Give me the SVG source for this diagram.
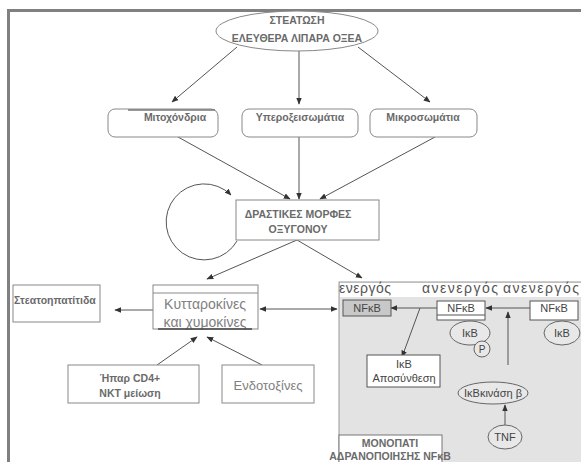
<svg xmlns="http://www.w3.org/2000/svg" width="581" height="462" viewBox="0 0 581 462">
<defs>
<marker id="ah" viewBox="0 0 10 10" refX="9" refY="5" markerWidth="7" markerHeight="7" orient="auto-start-reverse" markerUnits="userSpaceOnUse">
<path d="M0,1 L10,5 L0,9 Z" fill="#333"/>
</marker>
</defs>
<style>
.ln{stroke:#555;stroke-width:1;fill:none;marker-end:url(#ah)}
.bx{fill:#fff;stroke:#888;stroke-width:1}
.t{font-family:"Liberation Sans",Arial,sans-serif;fill:#6a6a6a;font-weight:bold;font-size:10.5px;text-anchor:middle}
.tr{font-family:"Liberation Sans",Arial,sans-serif;fill:#808080;font-size:14px;text-anchor:middle}
.tn{font-family:"Liberation Sans",Arial,sans-serif;fill:#444;font-size:11px;text-anchor:middle}
.hd{font-family:"Liberation Sans",Arial,sans-serif;fill:#555;font-size:14px}
.el{fill:#e8e8e8;stroke:#666;stroke-width:1}
</style>
<rect width="581" height="462" fill="#fff"/>
<!-- frame -->
<path d="M8.5,462 V10.5 H581" stroke="#808080" stroke-width="3" fill="none"/>

<!-- panel -->
<g id="panel">
<rect x="339" y="282" width="250" height="190" fill="#e3e3e3" stroke="#999"/>
<rect x="340" y="283" width="241" height="14" fill="#fff"/>
<text class="hd" x="339" y="293" textLength="52" lengthAdjust="spacing">ενεργός</text>
<text class="hd" x="422" y="293" textLength="76" lengthAdjust="spacing">ανενεργός</text>
<text class="hd" x="503" y="293" textLength="76" lengthAdjust="spacing">ανενεργός</text>
</g>

<g id="connectors">
<path class="ln" d="M237,47 L172,102"/>
<path class="ln" d="M299,51 L299,104"/>
<path class="ln" d="M358,47 L430,102"/>
<path class="ln" d="M178,137 L290,199"/>
<path class="ln" d="M299,137 L299,199"/>
<path class="ln" d="M435,137 L320,199"/>
<path class="ln" d="M237,241 A38,38 0 1 1 231,195"/>
<path class="ln" d="M297,240 L207,279"/>
<path class="ln" d="M297,240 L362,278"/>
<path class="ln" d="M153,310 L115,310"/>
<path class="ln" d="M260,309 L337,309" style="marker-start:url(#ah)"/>
<path class="ln" d="M157,365 L197,337"/>
<path class="ln" d="M262,365 L207,337"/>
<path class="ln" d="M437,308 L391,308"/>
<path class="ln" d="M420,308 L402,357"/>
<path class="ln" d="M530,308 L486,308"/>
<path class="ln" d="M508,365 L508,312"/>
<path class="ln" d="M505,425 L505,405"/>
</g>

<g id="steatosi">
<ellipse cx="297" cy="31" rx="81" ry="20" fill="#fff" stroke="#888"/>
<text class="t" x="297" y="24">ΣΤΕΑΤΩΣΗ</text>
<text class="t" x="297" y="42">ΕΛΕΥΘΕΡΑ ΛΙΠΑΡΑ ΟΞΕΑ</text>
</g>

<g id="mito">
<rect class="bx" x="108" y="109" width="110" height="28" rx="7"/>
<line x1="128" y1="110" x2="215" y2="110" stroke="#777" stroke-width="1.5"/>
<text class="t" x="175" y="121">Μιτοχόνδρια</text>
</g>
<g id="yperox">
<rect class="bx" x="242" y="109" width="116" height="28" rx="7"/>
<text class="t" x="300" y="121">Υπεροξεισωμάτια</text>
</g>
<g id="mikro">
<rect class="bx" x="370" y="109" width="107" height="28" rx="7"/>
<text class="t" x="423" y="121">Μικροσωμάτια</text>
</g>

<g id="ros">
<rect class="bx" x="236" y="200" width="143" height="40"/>
<text class="t" x="298" y="218">ΔΡΑΣΤΙΚΕΣ ΜΟΡΦΕΣ</text>
<text class="t" x="298" y="233">ΟΞΥΓΟΝΟΥ</text>
</g>

<g id="steatohep">
<rect class="bx" x="13" y="285" width="87" height="37"/>
<text class="t" x="14" y="304" style="text-anchor:start">Στεατοηπατίτιδα</text>
</g>

<g id="kyttaro">
<rect class="bx" x="153" y="285" width="105" height="44"/>
<line x1="153" y1="293" x2="258" y2="293" stroke="#888"/>
<text class="tr" x="205" y="309">Κυτταροκίνες</text>
<text class="tr" x="205" y="327">και χυμοκίνες</text>
<line x1="158" y1="329" x2="252" y2="329" stroke="#444" stroke-width="1.5"/>
</g>

<g id="ipar">
<rect class="bx" x="68" y="365" width="131" height="38"/>
<text class="t" x="130" y="382">Ήπαρ CD4+</text>
<text class="t" x="130" y="397">NKT μείωση</text>
</g>

<g id="endotox">
<rect class="bx" x="222" y="365" width="92" height="38"/>
<text class="tr" x="268" y="390" style="font-size:13px">Ενδοτοξίνες</text>
</g>

<g id="nfkb-active">
<rect x="343" y="300" width="48" height="16" fill="#c8c8c8" stroke="#555"/>
<text class="tn" x="367" y="312">NFκB</text>
</g>

<g id="nfkb-mid">
<rect x="437" y="301" width="48" height="19" fill="#fff" stroke="#555"/>
<line x1="437" y1="315" x2="485" y2="315" stroke="#555"/>
<text class="tn" x="461" y="312">NFκB</text>
<ellipse class="el" cx="470" cy="333" rx="20" ry="12"/>
<text class="tn" x="470" y="337">IκB</text>
<circle class="el" cx="482" cy="349" r="8"/>
<text class="tn" x="482" y="353" style="font-size:10px">P</text>
</g>

<g id="nfkb-right">
<rect x="530" y="301" width="48" height="19" fill="#fff" stroke="#555"/>
<text class="tn" x="554" y="312">NFκB</text>
<ellipse class="el" cx="562" cy="333" rx="18" ry="12"/>
<text class="tn" x="562" y="337">IκB</text>
</g>

<g id="ikb-apo">
<rect x="367" y="355" width="73" height="32" fill="#fff" stroke="#555"/>
<text class="tn" x="404" y="368">IκB</text>
<text class="tn" x="404" y="382">Αποσύνθεση</text>
</g>

<g id="ikk">
<ellipse class="el" cx="493" cy="393" rx="35" ry="11"/>
<text class="tn" x="493" y="397">IκBκινάση β</text>
</g>

<g id="tnf">
<ellipse class="el" cx="505" cy="437" rx="17" ry="12"/>
<text class="tn" x="505" y="441">TNF</text>
</g>

<g id="monopati">
<rect x="339" y="435" width="103" height="30" fill="#fff" stroke="#777"/>
<text class="t" x="390" y="447">ΜΟΝΟΠΑΤΙ</text>
<text class="t" x="390" y="460">ΑΔΡΑΝΟΠΟΙΗΣΗΣ NFκB</text>
</g>
</svg>
